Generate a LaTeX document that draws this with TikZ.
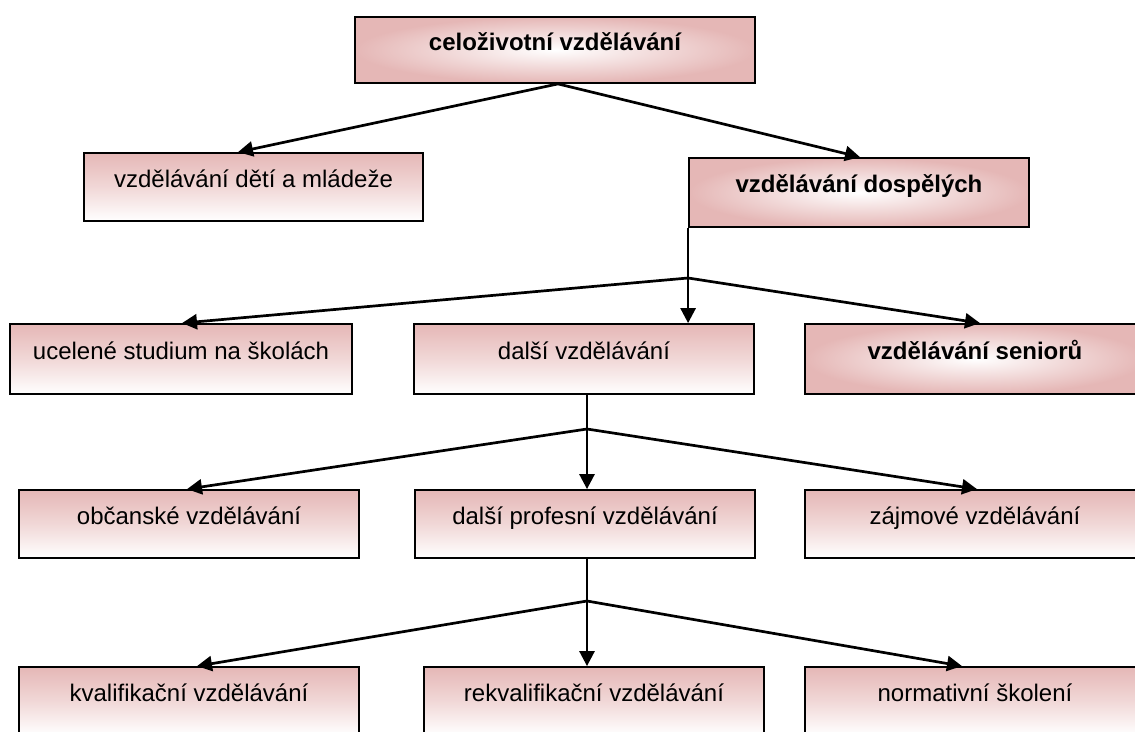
\documentclass[tikz,border=0pt]{standalone}
\usepackage{fontspec}
\setmainfont{Liberation Sans}
\usetikzlibrary{arrows.meta}
\definecolor{boxpink}{RGB}{229,183,182}
\tikzset{
  box/.style={draw=black, line width=1.8pt, inner sep=0pt, text height=12pt, text depth=12pt,
    font=\fontsize{24}{28}\selectfont},
  linbox/.style={box, top color=boxpink, bottom color=white, middle color=boxpink!55!white},
  radbox/.style={box, inner color=white, outer color=boxpink, font=\bfseries\fontsize{24}{28}\selectfont},
  conn/.style={line width=2.7pt, draw=black},
  arr/.style={conn, -{Triangle[length=15pt,width=15pt]}}
}
\begin{document}
\begin{tikzpicture}[x=1pt,y=-1pt]
\useasboundingbox (0,0) rectangle (1135,731);
\clip (0,0) rectangle (1135,731);
% boxes
\node[radbox, minimum width=400pt, minimum height=66pt] (top) at (555,50) {celoživotní vzdělávání};
\node[linbox, minimum width=339pt, minimum height=68pt] (dety) at (253.5,187) {vzdělávání dětí a mládeže};
\node[radbox, minimum width=340pt, minimum height=69pt] (dosp) at (859,192.5) {vzdělávání dospělých};
\node[linbox, minimum width=342pt, minimum height=70pt] (ucel) at (181,359) {ucelené studium na školách};
\node[linbox, minimum width=340pt, minimum height=70pt] (dalsi) at (584,359) {další vzdělávání};
\node[radbox, minimum width=340pt, minimum height=70pt] (sen) at (975,359) {vzdělávání seniorů};
\node[linbox, minimum width=340pt, minimum height=68pt] (obc) at (189,524) {občanské vzdělávání};
\node[linbox, minimum width=340pt, minimum height=68pt] (prof) at (585,524) {další profesní vzdělávání};
\node[linbox, minimum width=340pt, minimum height=68pt] (zaj) at (975,524) {zájmové vzdělávání};
\node[linbox, minimum width=340pt, minimum height=68pt] (kval) at (189,701) {kvalifikační vzdělávání};
\node[linbox, minimum width=340pt, minimum height=68pt] (rekv) at (594,701) {rekvalifikační vzdělávání};
\node[linbox, minimum width=340pt, minimum height=68pt] (norm) at (975,701) {normativní školení};
% junctions
\coordinate (j0) at (558,0 |- top.south);
\coordinate (j1) at (dosp.south west |- 0,278);
\coordinate (j2) at (587,429);
\coordinate (j3) at (587,601);
% connectors
\draw[arr] (j0) -- (238,0 |- dety.north);
\draw[arr] (j0) -- (860,0 |- dosp.north);
\draw[conn] (dosp.south west) -- (j1);
\draw[arr] (j1) -- (182,0 |- ucel.north);
\draw[arr] (j1) -- (j1 |- dalsi.north);
\draw[arr] (j1) -- (980,0 |- sen.north);
\draw[conn] (j2 |- dalsi.south) -- (j2);
\draw[arr] (j2) -- (187,0 |- obc.north);
\draw[arr] (j2) -- (j2 |- prof.north);
\draw[arr] (j2) -- (977,0 |- zaj.north);
\draw[conn] (j3 |- prof.south) -- (j3);
\draw[arr] (j3) -- (197,0 |- kval.north);
\draw[arr] (j3) -- (j3 |- rekv.north);
\draw[arr] (j3) -- (962,0 |- norm.north);
\end{tikzpicture}
\end{document}
